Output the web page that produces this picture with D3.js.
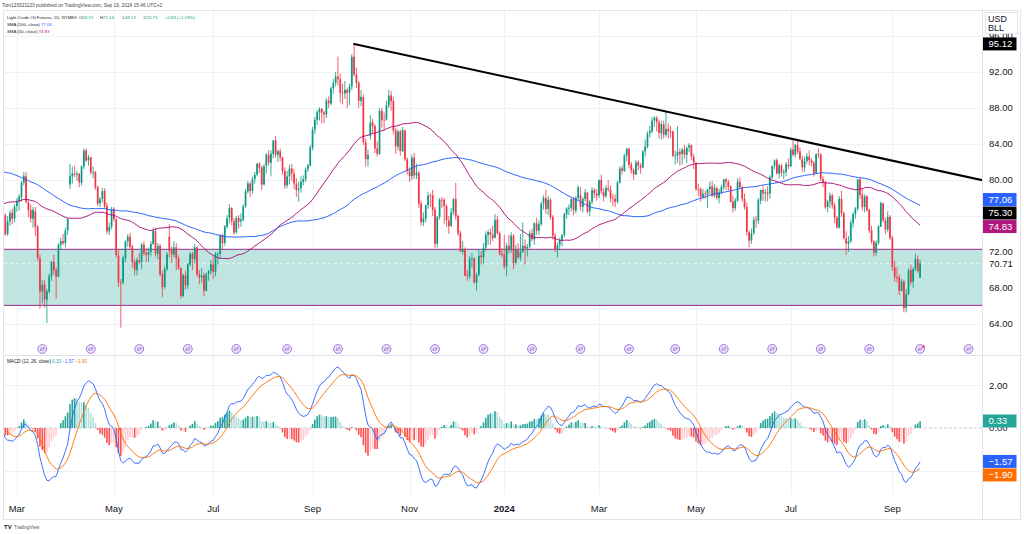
<!DOCTYPE html>
<html><head><meta charset="utf-8">
<script src="https://cdn.jsdelivr.net/npm/d3@7"></script>
<style>html,body{margin:0;padding:0;background:#fff;overflow:hidden}svg{display:block;font-family:"Liberation Sans",Arial,Helvetica,sans-serif}</style>
</head><body>
<svg id="chart" width="1024" height="534"></svg>
<script>
// ---------------- DATA ----------------
const startDate = "2023-02-21";
const holidays = ["2023-04-07","2023-05-29","2023-06-19","2023-07-04","2023-09-04","2023-11-23","2023-12-25",
  "2024-01-01","2024-01-15","2024-02-19","2024-03-29","2024-05-27","2024-06-19","2024-07-04","2024-09-02"];

// closes before the first visible bar (Sep 26 2022 .. Feb 17 2023), used only to seed SMA / MACD
const warmupCloses = [76.71,78.50,82.15,81.23,79.49,
 83.63,86.52,87.76,88.45,92.64,91.13,89.35,87.27,89.11,85.61,85.46,82.82,85.55,84.51,85.05,84.58,85.32,87.91,89.08,87.90,86.53,
 88.37,90.00,88.17,92.61,91.79,88.91,85.83,86.47,88.96,85.87,86.92,85.59,81.64,80.08,79.73,80.95,77.94,76.28,77.24,78.20,80.55,
 81.22,79.98,76.93,74.25,72.01,71.46,71.02,73.17,75.39,77.28,76.11,74.29,75.19,76.09,78.29,77.49,79.56,79.53,78.96,78.40,80.26,
 76.93,72.84,73.67,73.77,74.63,75.12,77.41,78.39,79.86,80.18,79.48,80.33,81.64,81.62,80.13,80.15,81.01,79.68,77.90,78.87,
 76.41,75.88,73.39,74.11,77.14,78.47,78.06,79.72,80.14,79.06,78.59,78.49,76.34];

// visible daily candles [open, high, low, close]
const ohlc = [
 // Feb 2023
 [76.5,76.9,75.9,76.16],[76.1,76.3,73.8,73.95],[74.0,76.0,73.8,75.39],[75.4,76.6,74.9,76.32],[76.4,76.8,75.1,75.68],[75.7,77.3,75.3,77.05],
 // Mar 2023
 [77.1,78.0,76.5,77.69],[77.6,78.4,76.6,78.16],[78.1,79.9,77.6,79.68],[79.7,80.9,79.4,80.46],[80.4,80.9,77.4,77.58],[77.5,77.8,75.9,76.66],
 [76.7,77.3,75.3,75.72],[75.7,77.0,74.7,76.68],[76.5,77.0,73.8,74.80],[74.8,75.0,71.0,71.33],[71.3,71.7,65.7,67.61],[67.6,68.9,66.3,68.35],
 [68.4,68.9,65.8,66.74],[66.7,67.9,64.1,67.64],[67.6,69.6,67.4,69.33],[69.3,71.0,68.8,70.90],[70.9,71.7,69.5,69.96],[70.0,70.3,66.8,69.26],
 [69.3,73.0,69.2,72.81],[72.8,73.6,72.2,73.20],[73.2,74.0,72.8,72.97],[73.0,74.7,72.5,74.37],[74.4,75.8,73.9,75.67],
 // Apr 2023
 [79.5,81.8,79.0,80.42],[80.4,81.5,79.6,80.71],[80.7,81.6,80.3,80.61],[80.6,81.0,79.9,80.70],[80.7,80.8,79.2,79.74],[79.7,81.6,79.4,81.53],
 [81.5,83.5,81.2,83.26],[83.3,83.5,82.0,82.16],[82.2,82.8,81.6,82.52],[82.5,82.6,80.6,80.83],[80.8,81.5,80.2,80.86],[80.9,81.0,78.9,79.16],
 [79.2,79.4,77.1,77.37],[77.4,78.1,77.0,77.87],[77.9,79.1,77.5,78.76],[78.8,79.1,76.8,77.07],[77.1,77.5,74.0,74.30],[74.3,75.3,73.9,74.76],
 [74.8,77.0,74.5,76.78],
 // May 2023
 [76.8,77.0,75.4,75.66],[75.6,75.8,71.4,71.66],[71.6,72.2,68.1,68.60],[68.6,69.0,63.6,68.56],[68.6,71.6,68.4,71.34],[71.3,73.3,70.8,73.16],
 [73.2,74.0,72.6,73.71],[73.7,74.1,72.3,72.56],[72.6,72.8,70.3,70.87],[70.9,71.2,69.4,70.04],[70.0,71.4,69.4,71.11],[71.1,71.9,70.7,70.86],
 [70.9,73.0,70.1,72.83],[72.8,73.2,71.6,71.86],[71.9,72.4,70.9,71.69],[71.7,72.5,70.9,71.99],[72.0,73.2,71.5,72.91],[72.9,74.7,72.8,74.34],
 [74.3,74.7,71.5,71.83],[71.8,73.0,71.2,72.67],[72.7,72.9,69.3,69.46],[69.5,69.9,67.0,68.09],
 // Jun 2023
 [68.1,70.4,67.9,70.10],[70.1,72.0,69.9,71.74],[73.7,75.1,71.4,72.15],[72.2,72.6,70.8,71.74],[71.7,73.2,71.4,72.53],[72.5,73.0,70.0,71.29],
 [71.3,71.6,70.0,70.17],[70.2,70.3,66.8,67.12],[67.1,69.6,67.0,69.42],[69.4,69.9,67.8,68.27],[68.3,70.8,67.9,70.62],[70.6,72.0,70.4,71.78],
 [71.8,72.0,70.0,71.19],[71.2,72.9,70.8,72.53],[72.5,72.6,69.3,69.51],[69.5,70.0,68.4,69.16],[69.2,70.2,68.6,69.37],[69.4,69.7,67.1,67.70],
 [67.7,69.7,67.6,69.56],[69.6,70.0,68.8,69.86],[69.9,71.1,69.5,70.64],
 // Jul 2023
 [70.6,71.5,69.0,69.79],[69.8,72.0,69.3,71.79],[71.8,72.0,70.6,71.80],[71.8,74.0,71.3,73.86],[73.9,74.0,72.2,72.99],[73.0,75.0,72.7,74.83],
 [74.8,76.1,74.6,75.75],[75.8,77.3,75.2,76.89],[76.9,77.0,75.0,75.42],[75.4,75.8,73.9,74.15],[74.2,76.0,74.0,75.75],[75.8,76.1,74.6,75.35],
 [75.4,76.3,74.8,75.63],[75.6,77.3,75.4,77.07],[77.1,79.0,76.9,78.74],[78.7,79.9,78.5,79.63],[79.6,79.8,78.1,78.78],[78.8,80.4,78.5,80.09],
 [80.1,80.9,79.6,80.58],[80.6,81.9,80.4,81.80],
 // Aug 2023
 [81.8,82.0,80.8,81.37],[81.4,81.6,78.9,79.49],[79.5,81.8,79.4,81.55],[81.6,83.0,80.7,82.82],[82.8,83.3,81.6,81.94],[81.9,83.3,80.4,82.92],
 [82.9,84.4,82.4,84.40],[84.4,84.9,82.5,82.82],[82.8,83.4,82.0,83.19],[83.2,83.5,82.1,82.51],[82.5,82.6,80.6,80.99],[81.0,81.4,79.0,79.38],
 [79.4,81.0,79.1,80.39],[80.4,81.7,79.5,81.25],[81.3,81.8,79.9,80.72],[80.7,81.2,79.0,79.64],[79.6,80.2,78.1,78.89],[78.9,79.8,77.6,79.05],
 [79.1,80.4,78.6,79.83],[79.8,80.5,79.4,80.10],[80.1,81.4,79.8,81.16],[81.2,81.8,80.9,81.63],[81.6,83.9,81.5,83.63],
 // Sep 2023
 [83.6,85.9,83.3,85.55],[85.6,87.0,85.1,86.69],[86.7,87.8,86.1,87.54],[87.5,88.1,86.6,87.87],[87.9,88.0,86.3,87.51],[87.5,87.7,86.3,87.29],
 [87.3,89.1,86.9,88.84],[88.8,89.3,88.0,88.52],[88.5,90.4,88.3,90.16],[90.2,91.2,89.6,90.77],[90.8,92.0,90.4,91.48],[91.5,93.7,90.5,91.20],
 [91.2,91.8,88.6,89.66],[89.7,90.7,88.4,89.63],[89.6,91.0,89.0,90.03],[90.0,90.2,88.0,89.68],[89.7,90.7,88.3,90.39],[90.4,94.0,90.0,93.68],
 [93.7,95.1,91.5,91.71],[91.7,92.5,90.2,90.79],
 // Oct 2023
 [90.8,91.0,88.0,88.82],[88.8,90.0,88.2,89.23],[89.2,89.5,83.9,84.22],[84.2,84.6,81.5,82.31],[82.3,83.4,81.5,82.79],[84.9,87.2,84.5,86.38],
 [86.4,86.8,85.2,85.97],[86.0,86.2,83.0,83.49],[83.5,84.3,82.6,82.91],[82.9,88.0,82.8,87.69],[87.7,88.0,85.8,86.66],[86.7,87.5,85.5,86.66],
 [86.7,88.8,86.6,88.32],[88.3,90.0,88.0,89.37],[89.4,89.9,87.7,88.75],[88.8,89.2,85.1,85.49],[85.5,85.8,82.9,83.74],[83.7,85.6,83.3,85.39],
 [85.4,85.6,82.7,83.21],[83.2,85.9,83.1,85.54],[85.5,85.6,82.1,82.31],[82.3,82.5,80.6,81.02],
 // Nov 2023
 [81.0,81.4,79.8,80.44],[80.4,82.8,80.0,82.46],[82.5,83.0,80.1,80.51],[80.5,81.8,80.1,80.82],[80.8,81.0,76.9,77.37],[77.4,77.7,74.9,75.33],
 [75.3,76.4,74.9,75.74],[75.7,77.3,75.3,77.17],[77.2,78.7,76.8,78.26],[78.3,78.5,77.0,78.26],[78.3,78.9,76.0,76.66],[76.7,77.0,72.4,72.90],
 [72.9,76.0,72.5,75.89],[75.9,78.0,75.6,77.83],[77.8,78.1,76.9,77.77],[77.8,78.0,75.1,77.10],[77.1,77.3,74.8,75.54],[75.5,76.0,74.0,74.86],
 [74.9,76.9,74.8,76.41],[76.4,78.0,76.1,77.86],[77.9,79.7,75.6,75.96],
 // Dec 2023
 [76.0,76.2,73.8,74.07],[74.1,74.4,72.0,72.04],[72.0,73.2,71.7,72.32],[72.3,72.5,69.3,69.38],[69.4,70.0,68.8,69.34],[69.3,71.6,69.0,71.23],
 [71.2,71.9,70.3,71.32],[71.3,71.4,68.5,68.61],[68.6,69.7,67.7,69.47],[69.5,72.3,69.3,71.58],[71.6,72.1,70.6,71.43],[71.4,73.0,70.7,72.47],
 [72.5,74.3,72.1,73.94],[73.9,74.5,72.8,74.22],[74.2,74.6,72.8,73.89],[73.9,74.9,73.2,73.56],[73.6,76.2,73.5,75.57],[75.6,76.0,73.9,74.11],
 [74.1,74.3,71.6,71.77],[71.8,72.4,71.4,71.65],
 // Jan 2024
 [71.7,73.9,70.1,70.38],[70.4,73.0,69.3,72.70],[72.7,73.9,71.8,72.19],[72.2,74.2,71.9,73.81],[73.8,74.0,70.1,70.77],[70.8,72.8,70.6,72.24],
 [72.2,73.0,71.2,71.37],[71.4,74.0,71.0,72.02],[72.0,75.3,71.9,72.68],[72.7,73.4,70.6,72.40],[72.4,72.9,71.5,72.56],[72.6,74.4,72.4,74.08],
 [74.1,74.6,73.2,73.41],[73.4,75.3,72.8,75.19],[75.2,75.8,73.9,74.37],[74.4,75.5,73.9,75.09],[75.1,77.6,74.9,77.36],[77.4,78.3,76.7,78.01],
 [78.0,78.9,76.2,76.78],[76.8,78.2,76.1,77.82],[77.8,78.0,75.6,75.85],
 // Feb 2024
 [75.9,76.1,73.4,73.82],[73.8,74.1,72.0,72.28],[72.3,73.1,71.4,72.78],[72.8,73.6,72.2,73.31],[73.3,74.0,72.6,73.86],[73.9,76.4,73.6,76.22],
 [76.2,77.0,75.7,76.84],[76.8,77.3,76.1,76.92],[76.9,78.0,76.5,77.87],[77.9,78.1,76.1,76.64],[76.6,78.2,76.3,78.03],[78.0,79.4,77.8,79.19],
 [78.3,79.2,76.6,77.04],[77.0,78.1,76.4,77.91],[77.9,79.0,77.6,78.61],[78.6,78.7,76.3,76.49],[76.5,77.8,76.0,77.58],[77.6,79.2,77.3,78.87],
 [78.9,79.1,78.0,78.54],[78.5,79.0,77.7,78.26],
 // Mar 2024
 [78.3,80.1,78.0,79.97],[80.0,80.6,78.4,78.74],[78.7,79.1,77.6,78.15],[78.2,79.4,78.0,79.13],[79.1,80.0,78.7,78.93],[78.9,79.4,77.5,78.01],
 [78.0,78.5,77.1,77.93],[77.9,78.4,77.0,77.56],[77.6,79.9,77.4,79.72],[79.7,81.5,79.6,81.26],[81.3,81.6,80.6,81.04],[81.0,82.9,80.9,82.72],
 [82.7,83.6,82.1,83.47],[83.5,83.5,81.3,81.68],[81.7,82.0,80.7,81.07],[81.1,81.3,80.0,80.63],[80.6,82.2,80.6,81.95],[82.0,82.2,81.1,81.62],
 [81.6,81.9,80.7,81.35],[81.4,83.3,81.3,83.17],
 // Apr 2024
 [83.2,84.5,82.6,83.71],[83.7,85.4,83.5,85.15],[85.2,86.0,84.7,85.43],[85.4,87.0,85.2,86.59],[86.6,87.1,85.9,86.91],[86.9,87.1,85.4,86.43],
 [86.4,86.7,84.6,85.23],[85.2,86.6,84.5,86.21],[86.2,86.6,84.6,85.02],[85.0,87.7,84.8,85.66],[85.7,86.3,84.6,85.41],[85.4,86.0,84.7,85.36],
 [85.4,85.5,82.5,82.69],[82.7,83.3,81.7,82.73],[82.7,86.0,81.9,83.14],[83.1,83.5,81.6,82.85],[82.9,83.6,81.7,83.36],[83.4,83.9,82.4,82.81],
 [82.8,83.7,81.9,83.57],[83.6,84.1,83.1,83.85],[83.9,83.9,82.2,82.63],[82.6,82.9,81.2,81.93],
 // May 2024
 [81.9,82.0,78.8,79.00],[79.0,79.6,78.2,78.95],[79.0,79.2,77.6,78.11],[78.1,79.0,77.9,78.48],[78.5,78.8,77.9,78.38],[78.4,79.0,76.9,78.99],
 [79.0,79.8,78.4,79.26],[79.3,79.9,78.1,78.26],[78.3,79.5,78.0,79.12],[79.1,79.3,77.8,78.02],[78.0,79.0,77.4,78.63],[78.6,79.5,78.4,79.23],
 [79.2,80.1,78.9,80.06],[80.1,80.2,78.9,79.80],[79.8,80.0,78.8,79.26],[79.3,79.4,77.5,77.57],[77.6,78.3,76.4,76.87],[76.9,78.0,76.6,77.72],
 [77.7,80.2,77.6,79.83],[79.8,80.3,79.0,79.23],[79.2,79.4,77.6,77.91],[77.9,78.5,76.7,76.99],
 // Jun 2024
 [77.0,77.5,73.8,74.22],[74.2,74.4,72.5,73.25],[73.3,74.6,72.9,74.07],[74.1,75.9,73.9,75.55],[75.6,76.0,74.7,75.53],[75.5,78.0,75.1,77.74],
 [77.7,78.9,77.3,78.90],[78.9,79.3,77.7,78.50],[78.5,79.0,77.6,78.62],[78.6,79.3,77.6,78.45],[78.5,80.5,77.9,80.33],[80.3,81.6,80.1,81.57],
 [81.6,82.3,81.2,82.17],[82.2,82.4,80.6,80.73],[80.7,81.8,80.2,81.63],[81.6,81.8,80.4,80.83],[80.8,81.2,80.1,80.90],[80.9,82.0,80.4,81.74],
 [81.7,82.4,81.2,81.54],
 // Jul 2024
 [81.5,83.6,81.5,83.38],[83.4,84.4,82.6,82.81],[82.8,84.0,82.5,83.88],[83.9,84.5,82.9,83.16],[83.2,83.6,82.2,82.33],[82.3,82.7,80.9,81.41],
 [81.4,82.6,80.9,82.10],[82.1,83.0,81.8,82.62],[82.6,83.3,81.6,82.21],[82.2,82.4,81.5,81.91],[81.9,82.1,80.4,80.76],[80.8,83.0,80.7,82.85],
 [82.9,83.5,82.4,82.82],[82.8,83.0,79.9,80.13],[80.1,80.4,79.2,79.78],[79.8,79.9,76.8,76.96],[77.0,77.8,76.4,77.59],[77.6,78.6,76.9,78.28],
 [78.3,78.5,76.8,77.16],[77.2,77.5,75.2,75.81],[75.8,76.0,74.6,74.73],[74.7,78.2,74.6,77.91],
 // Aug 2024
 [77.9,78.8,75.9,76.31],[76.3,76.5,73.4,73.52],[73.5,74.3,71.7,72.94],[72.9,73.8,72.0,73.20],[73.2,75.6,73.0,75.23],[75.2,76.4,74.7,76.19],
 [76.2,77.0,75.7,76.84],[76.8,80.1,76.6,80.06],[80.1,80.2,77.9,78.35],[78.4,79.0,76.6,76.98],[77.0,78.4,76.4,78.16],[78.2,78.3,76.5,76.65],
 [76.7,76.8,74.1,74.37],[74.4,74.9,72.9,73.17],[73.2,73.3,71.5,71.93],[71.9,73.3,71.6,73.01],[73.0,75.0,72.8,74.83],[74.8,77.6,74.8,77.42],
 [77.4,77.5,75.3,75.53],[75.5,75.8,74.0,74.52],[74.5,76.5,74.2,75.91],[75.9,76.1,73.3,73.55],
 // Sep 2024
 [73.6,73.8,69.9,70.34],[70.3,71.0,68.7,69.20],[69.2,70.3,68.6,69.15],[69.2,69.5,67.2,67.67],[67.7,69.0,67.6,68.71],[68.7,68.9,65.3,65.75],
 [65.8,67.9,65.3,67.31],[67.3,70.2,67.2,69.97],[70.0,70.6,68.3,68.65],[68.7,70.3,68.0,70.09],[70.1,71.8,69.9,71.19],[71.2,71.6,69.7,69.88],
 [69.15,71.14,69.13,70.71]
];

const priceTicks = [64,68,72,76,80,84,88,92,96];
const macdTicks = [-2,0,2];
const monthNames = ["Jan","Feb","Mar","Apr","May","Jun","Jul","Aug","Sep","Oct","Nov","Dec"];
const zone = [66.07, 72.3];                 // support zone (low, high)
const trendBars = [152, 508];               // trend line anchors (bar index)
const trendPrices = [95.12, 75.30];
const rollDates = ["2023-03-16","2023-04-17","2023-05-16","2023-06-15","2023-07-18","2023-08-17","2023-09-19","2023-10-18",
  "2023-11-16","2023-12-18","2024-01-19","2024-02-20","2024-03-20","2024-04-18","2024-05-17","2024-06-18","2024-07-19",
  "2024-08-19","2024-09-19","2024-10-18"];
const lastOHLC = [69.15, 71.14, 69.13, 70.71];
const lastChange = ["+0.83", "(+1.19%)"];
const smaValues = [77.06, 74.83];           // SMA100, SMA50 legend
const macdValues = [0.33, -1.57, -1.90];    // hist, macd, signal legend
const headerText = "Tom123321123 published on TradingView.com, Sep 19, 2024 15:46 UTC+2";

// ---------------- HELPERS ----------------
function tradingDays(start, count) {
  const hol = new Set(holidays); const out = [];
  const d = new Date(start + "T12:00:00Z");
  while (out.length < count) {
    const wd = d.getUTCDay(), s = d.toISOString().slice(0,10);
    if (wd !== 0 && wd !== 6 && !hol.has(s)) out.push(s);
    d.setUTCDate(d.getUTCDate() + 1);
  }
  return out;
}
const allClose = warmupCloses.concat(ohlc.map(d => d[3]));
const WU = warmupCloses.length;
function sma(n) {
  return ohlc.map((_, i) => { const j = i + WU; return d3.mean(allClose.slice(j - n + 1, j + 1)); });
}
function ema(arr, n) {
  const a = 2 / (n + 1); let e; return arr.map((v, i) => (e = i === 0 ? v : a * v + (1 - a) * e));
}
const sma100 = sma(100), sma50 = sma(50);
const e12 = ema(allClose, 12), e26 = ema(allClose, 26);
const macdAll = allClose.map((_, i) => e12[i] - e26[i]);
const sigAll = ema(macdAll, 9);
const macd = macdAll.slice(WU), signal = sigAll.slice(WU);
const hist = macd.map((m, i) => m - signal[i]);

// ---------------- LAYOUT ----------------
const P = {l:4, r:982, pT:11, pB:355, mT:356, mB:495, aB:519};
const BAR = 2.31;
const x = d3.scaleLinear().domain([0, 1]).range([3, 3 + BAR]);
const y = d3.scaleLinear().domain([64, 92]).range([324, 72]);
const ym = d3.scaleLinear().domain([-2, 2]).range([470.6, 385.4]);
const days = tradingDays(startDate, ohlc.length + 45);
const fmt = v => (v < 0 ? "\u2212" : "") + Math.abs(v).toFixed(2);

const UP = "#089981", DN = "#f23645", GRID = "#eef1f6", BORDER = "#e0e3eb", TXT = "#131722";
const C100 = "#2962ff", C50 = "#b0187e", CZ = "#9c2a8c";

const svg = d3.select("#chart");
svg.append("rect").attr("width", 1024).attr("height", 534).attr("fill", "#fff");
const defs = svg.append("defs");
defs.append("clipPath").attr("id", "cp").append("rect").attr("x", P.l).attr("y", P.pT).attr("width", P.r - P.l).attr("height", P.pB - P.pT);
defs.append("clipPath").attr("id", "cm").append("rect").attr("x", P.l).attr("y", P.mT).attr("width", P.r - P.l).attr("height", P.mB - P.mT);

// header
svg.append("text").attr("x", 2).attr("y", 7).attr("font-size", 4.8).attr("fill", "#444").text(headerText);

// month ticks (every other month)
const monthTicks = [];
days.forEach((d, i) => {
  if (i > 0 && d.slice(5, 7) !== days[i - 1].slice(5, 7)) {
    const m = +d.slice(5, 7);
    if (m % 2 === 1 && x(i) < P.r - 8) monthTicks.push({i, m, yr: d.slice(0, 4)});
  }
});

// grids
const grid = svg.append("g");
grid.selectAll(".vg").data(monthTicks).join("line")
  .attr("x1", d => Math.round(x(d.i)) + 0.5).attr("x2", d => Math.round(x(d.i)) + 0.5)
  .attr("y1", P.pT).attr("y2", P.mB).attr("stroke", GRID);
grid.selectAll(".hg").data(priceTicks.filter(t => y(t) > P.pT && y(t) < P.pB)).join("line")
  .attr("x1", P.l).attr("x2", P.r).attr("y1", d => Math.round(y(d)) + 0.5).attr("y2", d => Math.round(y(d)) + 0.5).attr("stroke", GRID);
grid.selectAll(".mg").data(macdTicks.filter(t => t !== 0)).join("line")
  .attr("x1", P.l).attr("x2", P.r).attr("y1", d => Math.round(ym(d)) + 0.5).attr("y2", d => Math.round(ym(d)) + 0.5).attr("stroke", GRID);

// price pane
const pp = svg.append("g").attr("clip-path", "url(#cp)");
pp.append("rect").attr("x", P.l - 5).attr("width", P.r - P.l + 10)
  .attr("y", y(zone[1])).attr("height", y(zone[0]) - y(zone[1]))
  .attr("fill", "#bee5df").attr("stroke", CZ).attr("stroke-width", 1);
pp.append("line").attr("x1", P.l).attr("x2", P.r).attr("y1", y(lastOHLC[3])).attr("y2", y(lastOHLC[3]))
  .attr("stroke", "#eef3f3").attr("stroke-dasharray", "3,3");

const candles = pp.append("g");
candles.selectAll("line").data(ohlc).join("line")
  .attr("x1", (d, i) => x(i)).attr("x2", (d, i) => x(i))
  .attr("y1", d => y(d[1])).attr("y2", d => y(d[2]))
  .attr("stroke", d => d[3] >= d[0] ? UP : DN).attr("stroke-width", 0.8);
candles.selectAll("rect").data(ohlc).join("rect")
  .attr("x", (d, i) => x(i) - 0.85).attr("width", 1.7)
  .attr("y", d => y(Math.max(d[0], d[3])))
  .attr("height", d => Math.max(0.8, Math.abs(y(d[0]) - y(d[3]))))
  .attr("fill", d => d[3] >= d[0] ? UP : DN);

const lineGen = d3.line().x((d, i) => x(i)).y(d => y(d));
pp.append("path").attr("d", lineGen(sma100)).attr("fill", "none").attr("stroke", C100).attr("stroke-width", 1);
pp.append("path").attr("d", lineGen(sma50)).attr("fill", "none").attr("stroke", C50).attr("stroke-width", 1);

pp.append("line").attr("x1", x(trendBars[0])).attr("y1", y(trendPrices[0]))
  .attr("x2", x(trendBars[1])).attr("y2", y(trendPrices[1]))
  .attr("stroke", "#000").attr("stroke-width", 2).attr("stroke-linecap", "round");

// roll markers
const rollG = svg.append("g");
rollDates.map(d => days.indexOf(d)).filter(i => i >= 0 && x(i) < P.r).forEach(i => {
  const g = rollG.append("g").attr("transform", `translate(${x(i)},349)`);
  g.append("circle").attr("r", 4.4).attr("fill", "#efe6fb").attr("stroke", "#9a66d9").attr("stroke-width", 0.9);
  g.append("path").attr("d", "M-2.2,-0.9 L2.2,-0.9 M1.2,-1.9 L2.2,-0.9 L1.2,0.1 M2.2,1.0 L-2.2,1.0 M-1.2,0 L-2.2,1.0 L-1.2,2.0")
    .attr("fill", "none").attr("stroke", "#9a66d9").attr("stroke-width", 0.7);
});
rollG.append("circle").attr("cx", x(ohlc.length - 1) + 3.5).attr("cy", 346.5).attr("r", 1.3).attr("fill", DN);

// legend (price pane)
const lg = svg.append("g").attr("font-size", 4.3).attr("fill", TXT);
const t1 = lg.append("text").attr("x", 7).attr("y", 18.5);
t1.append("tspan").text("Light Crude Oil Futures, 1D, NYMEX");
["O","H","L","C"].forEach((k, j) => {
  t1.append("tspan").attr("x", [79, 100, 122.5, 143.5][j]).text(k);
  t1.append("tspan").attr("fill", UP).text(lastOHLC[j].toFixed(2));
});
t1.append("tspan").attr("x", 165).attr("fill", UP).text(lastChange.join(" "));
const t2 = lg.append("text").attr("x", 7).attr("y", 25.8);
t2.append("tspan").text("SMA (100, close) ");
t2.append("tspan").attr("fill", C100).text(smaValues[0].toFixed(2));
const t3 = lg.append("text").attr("x", 7).attr("y", 33);
t3.append("tspan").text("SMA (50, close) ");
t3.append("tspan").attr("fill", C50).text(smaValues[1].toFixed(2));

// pane separator
svg.append("line").attr("x1", 3.5).attr("x2", 1020.5).attr("y1", 355.5).attr("y2", 355.5).attr("stroke", BORDER);

// MACD pane
const mp = svg.append("g").attr("clip-path", "url(#cm)");
mp.append("line").attr("x1", P.l).attr("x2", P.r).attr("y1", ym(0)).attr("y2", ym(0))
  .attr("stroke", "#b8bbc3").attr("stroke-dasharray", "3,2").attr("stroke-width", 0.8);
mp.selectAll("rect").data(hist).join("rect")
  .attr("x", (d, i) => x(i) - 0.8).attr("width", 1.6)
  .attr("y", d => Math.min(ym(d), ym(0))).attr("height", d => Math.abs(ym(d) - ym(0)))
  .attr("fill", (d, i) => {
    const p = i > 0 ? hist[i - 1] : d;
    if (d >= 0) return p < d ? "#26a69a" : "#b2dfdb";
    return p < d ? "#ffcdd2" : "#ff5252";
  });
const mLine = d3.line().x((d, i) => x(i)).y(d => ym(d));
mp.append("path").attr("d", mLine(macd)).attr("fill", "none").attr("stroke", "#2962ff").attr("stroke-width", 0.9);
mp.append("path").attr("d", mLine(signal)).attr("fill", "none").attr("stroke", "#ff6d00").attr("stroke-width", 0.9);

const ml = svg.append("text").attr("x", 7).attr("y", 363.3).attr("font-size", 4.6).attr("fill", TXT);
ml.append("tspan").text("MACD (12, 26, close) ");
ml.append("tspan").attr("fill", "#26a69a").text(fmt(macdValues[0]) + "  ");
ml.append("tspan").attr("fill", "#2962ff").text(fmt(macdValues[1]) + "  ");
ml.append("tspan").attr("fill", "#ff6d00").text(fmt(macdValues[2]));

// frame and axis separators
svg.append("line").attr("x1", 982.5).attr("x2", 982.5).attr("y1", 10.5).attr("y2", 519.5).attr("stroke", BORDER);
svg.append("rect").attr("x", 3.5).attr("y", 10.5).attr("width", 1017).attr("height", 509)
  .attr("fill", "none").attr("stroke", BORDER);

// time axis labels
svg.append("g").selectAll("text").data(monthTicks).join("text")
  .attr("x", d => x(d.i)).attr("y", 512).attr("text-anchor", "middle").attr("font-size", 9.5)
  .attr("font-weight", d => d.m === 1 ? "bold" : null).attr("fill", TXT)
  .text(d => d.m === 1 ? d.yr : monthNames[d.m - 1]);

// value boxes (positions resolved to avoid overlap)
function resolve(list, anchorTop) {
  const s = list.slice().sort((a, b) => a.y - b.y);
  const gap = 13.5;
  if (anchorTop) { for (let k = 1; k < s.length; k++) if (s[k].y - s[k-1].y < gap) s[k].y = s[k-1].y + gap; }
  else { for (let k = s.length - 2; k >= 0; k--) if (s[k+1].y - s[k].y < gap) s[k].y = s[k+1].y - gap; }
  return s;
}
const priceBoxes = resolve([
  {v: trendPrices[0], y: y(trendPrices[0]), c: "#000"},
  {v: smaValues[0], y: y(smaValues[0]), c: C100},
  {v: trendPrices[1], y: y(trendPrices[1]), c: "#000"},
  {v: smaValues[1], y: y(smaValues[1]), c: C50}
], false);
const macdBoxes = resolve([
  {v: macdValues[0], y: ym(macdValues[0]), c: "#26a69a"},
  {v: macdValues[1], y: ym(macdValues[1]), c: "#2962ff"},
  {v: macdValues[2], y: ym(macdValues[2]), c: "#ff6d00"}
], true);
const boxes = priceBoxes.concat(macdBoxes);
const hidden = ty => boxes.some(b => Math.abs(b.y - ty) < 5);   // tick labels fully covered by a box are skipped

// price axis tick labels
const ax = svg.append("g").attr("font-size", 9.5).attr("fill", TXT);
ax.selectAll(".pt").data(priceTicks.filter(t => y(t) > P.pT + 20 && y(t) < P.pB - 4 && !hidden(y(t)))).join("text")
  .attr("x", 989).attr("y", d => y(d) + 3.4).text(d => d.toFixed(2));
ax.append("text").attr("x", 989).attr("y", y(lastOHLC[3]) + 3.4).text(lastOHLC[3].toFixed(2));
ax.selectAll(".mt").data(macdTicks.filter(t => !hidden(ym(t)))).join("text")
  .attr("x", 989).attr("y", d => ym(d) + 3.4).text(d => fmt(d));

// USD / BLL unit box (drawn before the top value box)
svg.append("rect").attr("x", 985.5).attr("y", 12.5).attr("width", 32).attr("height", 21).attr("fill", "#fff").attr("stroke", BORDER);
svg.append("text").attr("x", 988).attr("y", 21.5).attr("font-size", 9).attr("fill", TXT).text("USD");
svg.append("text").attr("x", 988).attr("y", 31).attr("font-size", 9).attr("fill", TXT).text("BLL");

const bx = svg.append("g");
boxes.forEach(b => {
  bx.append("rect").attr("x", 983).attr("y", b.y - 6.5).attr("width", 33.5).attr("height", 13).attr("fill", b.c);
  bx.append("text").attr("x", 988.5).attr("y", b.y + 3.4).attr("font-size", 9.5).attr("fill", "#fff").text(fmt(b.v));
});

// logo
svg.append("text").attr("x", 4).attr("y", 529).attr("font-size", 6).attr("font-weight", "bold").attr("fill", "#131722").text("TV");
svg.append("text").attr("x", 14).attr("y", 529).attr("font-size", 4.6).attr("fill", "#555").text("TradingView");
</script>
</body></html>
